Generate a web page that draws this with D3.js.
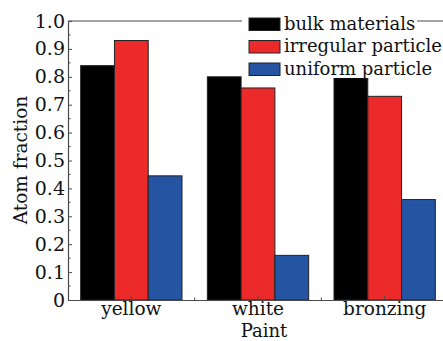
<!DOCTYPE html>
<html>
<head>
<meta charset="utf-8">
<script src="https://cdn.jsdelivr.net/npm/d3@7/dist/d3.min.js"></script>
<style>
  html, body { margin: 0; padding: 0; background: #fff; }
  svg { display: block; overflow: hidden; }
  text { font-family: "DejaVu Serif", "Liberation Serif", serif; fill: #111; }
</style>
</head>
<body>
<svg id="chart" width="443" height="341"></svg>
<script>
// Atom fraction by paint type and sample form
const paints = ["yellow", "white", "bronzing"];
const seriesNames = ["bulk materials", "irregular particle", "uniform particle"];
const bulkMaterials = [0.84, 0.80, 0.81];
const irregularParticle = [0.93, 0.76, 0.73];
const uniformParticle = [0.445, 0.16, 0.36];
const yTickValues = [0, 0.1, 0.2, 0.3, 0.4, 0.5, 0.6, 0.7, 0.8, 0.9, 1.0];
const yTickLabels = ["0", "0.1", "0.2", "0.3", "0.4", "0.5", "0.6", "0.7", "0.8", "0.9", "1.0"];
const xLabel = "Paint";
const yLabel = "Atom fraction";

const seriesColors = ["#000000", "#ec2a2a", "#2554a3"];
const seriesValues = [bulkMaterials, irregularParticle, uniformParticle];

const svg = d3.select("#chart");
const plotLeft = 68, plotRight = 448, plotTop = 21, plotBottom = 300;

const x = d3.scaleBand().domain(paints).range([plotLeft, plotRight])
  .paddingInner(0.2).paddingOuter(0.1);
const xSub = d3.scaleBand().domain(seriesNames).range([0, x.bandwidth()]);
const y = d3.scaleLinear().domain([0, 1.0]).range([plotBottom, plotTop]);

// Bars
const rows = paints.map((p, i) => ({ paint: p, values: seriesNames.map((s, j) => ({ s, j, v: seriesValues[j][i] })) }));
const groups = svg.append("g").selectAll("g").data(rows).join("g")
  .attr("transform", d => `translate(${x(d.paint)},0)`);
groups.selectAll("rect").data(d => d.values).join("rect")
  .attr("x", d => xSub(d.s))
  .attr("y", d => y(d.v))
  .attr("width", xSub.bandwidth())
  .attr("height", d => y(0) - y(d.v))
  .attr("fill", d => seriesColors[d.j])
  .attr("stroke", "#222")
  .attr("stroke-width", 1);

const axisColor = "#4a4a4a";

// Frame (top line)
svg.append("line").attr("x1", plotLeft).attr("x2", plotRight).attr("y1", plotTop).attr("y2", plotTop)
  .attr("stroke", axisColor).attr("stroke-width", 1.2);

// Left axis with inward ticks
const yAxis = d3.axisLeft(y).tickValues(yTickValues)
  .tickFormat((d, i) => yTickLabels[i]).tickSizeInner(-4).tickSizeOuter(0).tickPadding(3);
const gy = svg.append("g").attr("transform", `translate(${plotLeft},0)`).call(yAxis);
gy.select(".domain").attr("stroke", axisColor).attr("stroke-width", 1.2);
gy.selectAll(".tick line").attr("stroke", axisColor);
gy.selectAll(".tick text").attr("font-size", 19).attr("font-family", "DejaVu Serif").attr("fill", "#111");
// minor ticks
const minor = d3.range(0.05, 1.0, 0.1);
svg.append("g").selectAll("line").data(minor).join("line")
  .attr("x1", plotLeft).attr("x2", plotLeft + 2.5)
  .attr("y1", d => y(d)).attr("y2", d => y(d))
  .attr("stroke", axisColor);

// Bottom axis
const xAxis = d3.axisBottom(x).tickSizeInner(-4).tickSizeOuter(0).tickPadding(2);
const gx = svg.append("g").attr("transform", `translate(0,${plotBottom})`).call(xAxis);
gx.select(".domain").attr("stroke", axisColor).attr("stroke-width", 1.2);
gx.selectAll(".tick line").attr("stroke", axisColor);
gx.selectAll(".tick text").attr("font-size", 18.5).attr("font-family", "DejaVu Serif").attr("fill", "#111");
// minor ticks between groups
const between = paints.slice(1).map(p => x(p) - x.step() * x.paddingInner() / 2);
svg.append("g").selectAll("line").data(between).join("line")
  .attr("x1", d => d).attr("x2", d => d)
  .attr("y1", plotBottom).attr("y2", plotBottom - 2.5)
  .attr("stroke", axisColor);

// Axis titles
svg.append("text").attr("x", 264).attr("y", 336.5).attr("text-anchor", "middle")
  .attr("font-size", 18).text(xLabel);
svg.append("text").attr("transform", "translate(27,160) rotate(-90)")
  .attr("text-anchor", "middle").attr("font-size", 18.5).text(yLabel);

// Legend
const lg = svg.append("g");
lg.append("rect").attr("x", 242).attr("y", 14).attr("width", 175).attr("height", 64).attr("fill", "#fff");
const items = lg.selectAll("g").data(seriesNames).join("g")
  .attr("transform", (d, i) => `translate(249,${18 + i * 22.5})`);
items.append("rect").attr("width", 31).attr("height", 12.5)
  .attr("fill", (d, i) => seriesColors[i]).attr("stroke", "#222").attr("stroke-width", 1);
items.append("text").attr("x", 35).attr("y", 11.5).attr("font-size", 18).text(d => d);
</script>
</body>
</html>
